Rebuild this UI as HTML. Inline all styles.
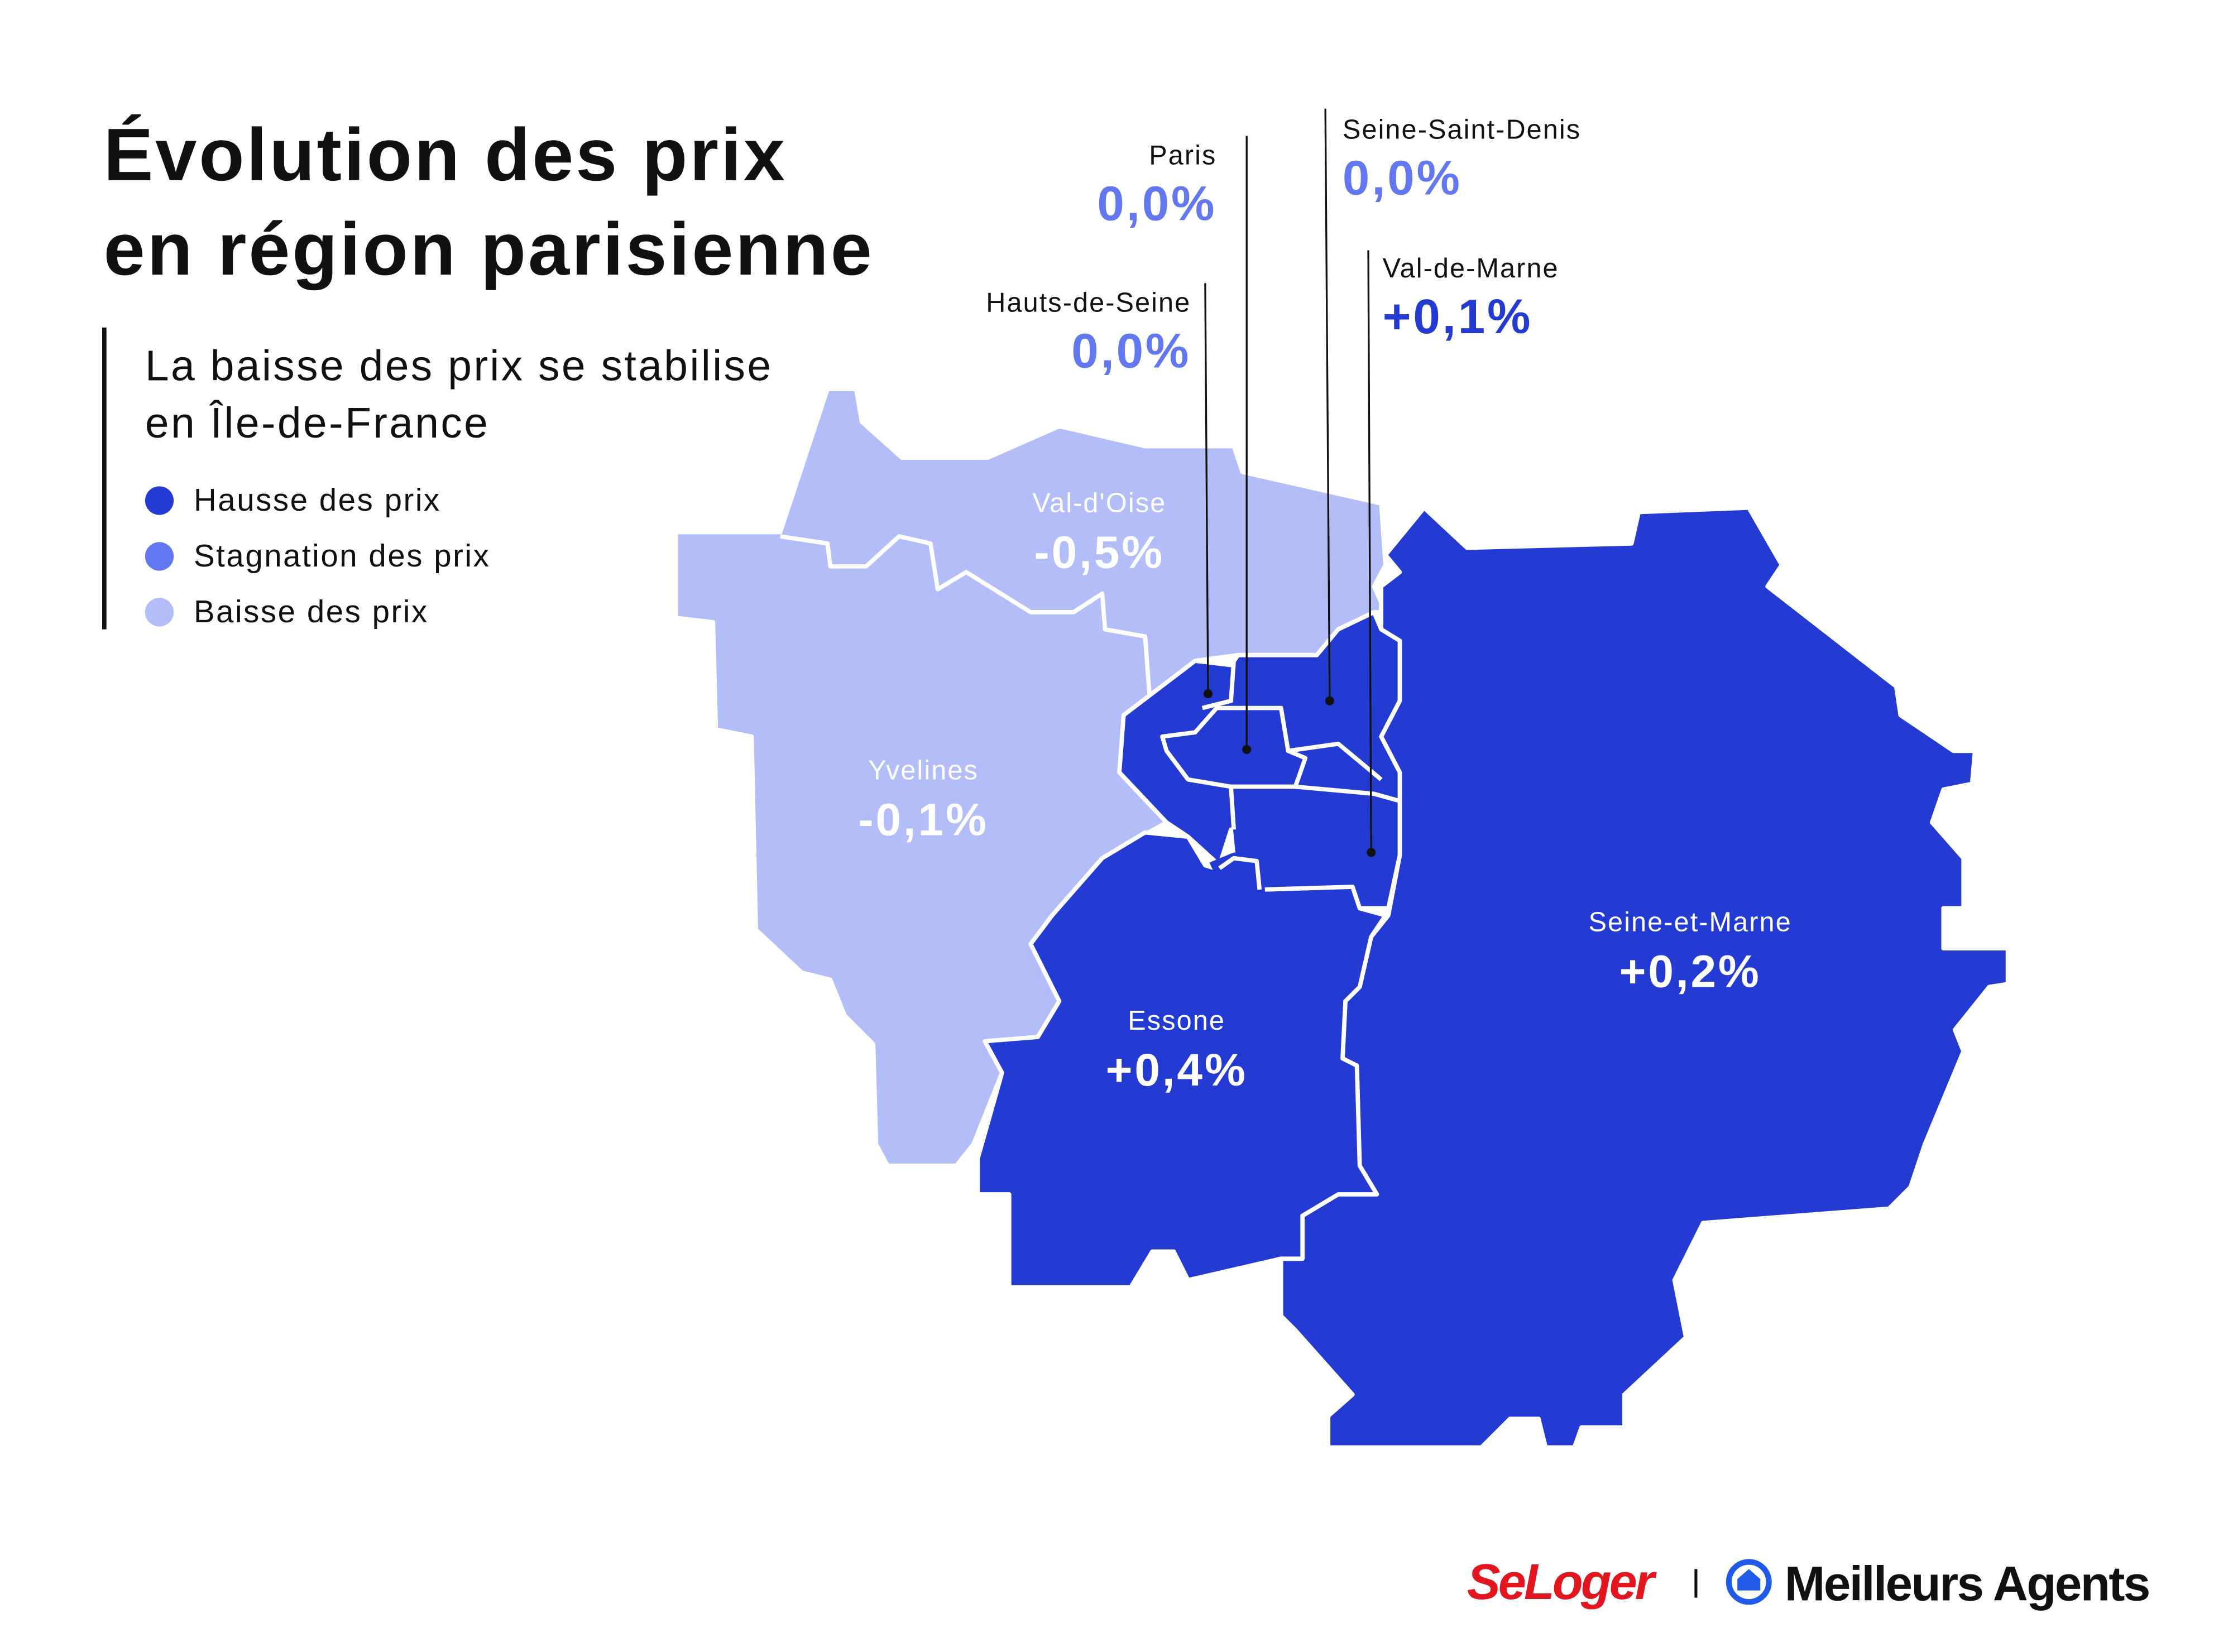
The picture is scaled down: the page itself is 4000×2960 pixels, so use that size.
<!DOCTYPE html>
<html><head><meta charset="utf-8"><style>
html,body{margin:0;padding:0;background:#fff}
svg{display:block}
text{font-family:"Liberation Sans","DejaVu Sans",sans-serif}
</style></head><body>
<svg width="4000" height="2960" viewBox="0 0 1560 1155" xmlns="http://www.w3.org/2000/svg">
<rect width="1560" height="1155" fill="#fff"/>
<text x="72" y="126" font-size="52" font-weight="bold" fill="#111" letter-spacing="1.5">Évolution des prix</text>
<text x="72" y="192" font-size="52" font-weight="bold" fill="#111" letter-spacing="1.5">en région parisienne</text>
<rect x="71" y="229" width="3" height="211" fill="#111"/>
<text x="101" y="266" font-size="30" fill="#111" letter-spacing="1.3">La baisse des prix se stabilise</text>
<text x="101" y="306" font-size="30" fill="#111" letter-spacing="1.3">en Île-de-France</text>
<circle cx="111" cy="350" r="10" fill="#233bd3"/>
<circle cx="111" cy="389" r="10" fill="#6377f0"/>
<circle cx="111" cy="428" r="10" fill="#b3bdf8"/>
<text x="135" y="357" font-size="22" fill="#111" letter-spacing="1">Hausse des prix</text>
<text x="135" y="396" font-size="22" fill="#111" letter-spacing="1">Stagnation des prix</text>
<text x="135" y="435" font-size="22" fill="#111" letter-spacing="1">Baisse des prix</text>

<g stroke="#fff" stroke-width="3" stroke-linejoin="round">
<path fill="#b3bdf8" d="M578,272 L598,272 L602,295 L630,320 L690,320 L740,298 L800,312 L862,312 L868,330 L965,352 L968,395 L960,410 L968,428 L960,428 L935,440 L920,458 L865,458 L835,462 L785,500 L782,540 L815,575 L770,600 L735,640 L720,660 L740,700 L725,725 L688,728 L700,750 L680,800 L668,815 L620,815 L612,800 L610,730 L590,710 L580,685 L560,680 L528,650 L525,515 L500,510 L498,435 L472,432 L472,372 L545,372 Z"/>
<path fill="none" d="M545,375 L578,380 L580,396 L605,396 L628,375 L650,380 L655,412 L675,400 L720,428 L750,428 L770,415 L772,440 L800,445 L803,485"/>
<path fill="#233bd3" d="M995,355 L1025,383 L1140,380 L1145,358 L1222,355 L1245,395 L1235,410 L1325,480 L1328,500 L1365,525 L1380,525 L1378,548 L1358,552 L1350,575 L1372,600 L1372,635 L1358,635 L1358,663 L1403,663 L1403,688 L1390,690 L1366,720 L1372,735 L1345,800 L1335,830 L1320,845 L1190,855 L1170,895 L1178,935 L1135,975 L1135,998 L1105,998 L1100,1012 L1080,1012 L1075,992 L1055,992 L1035,1012 L928,1012 L928,990 L945,975 L905,930 L895,920 L895,880 L910,880 L910,850 L935,835 L962,835 L950,815 L948,745 L938,740 L940,700 L950,690 L958,655 L970,640 L978,598 L978,540 L965,515 L978,490 L978,448 L965,440 L965,410 L978,400 L968,388 Z"/>
<path fill="#233bd3" d="M770,600 L800,582 L830,585 L842,605 L858,610 L860,625 L880,622 L945,620 L950,635 L968,640 L958,655 L950,690 L940,700 L938,740 L948,745 L950,815 L962,835 L935,835 L910,850 L910,880 L895,880 L830,895 L820,875 L805,875 L790,900 L705,900 L705,835 L683,835 L683,810 L700,750 L688,728 L725,725 L740,700 L720,660 L735,640 Z"/>
<path fill="#233bd3" d="M785,500 L835,462 L860,465 L865,458 L920,458 L935,440 L960,428 L965,440 L978,448 L978,490 L965,515 L978,540 L978,598 L970,635 L950,635 L945,620 L880,622 L878,602 L862,600 L860,580 L852,605 L830,585 L815,575 L782,540 Z"/>
<path fill="#233bd3" stroke="none" d="M845,603 L862,596 L882,598 L884,626 L856,628 Z"/>
<path fill="none" d="M852,607 L862,600 L878,602 L880,622"/>
<path fill="none" d="M862,462 L860,490 L840,495 M900,525 L935,520 L965,545 M860,550 L862,580 M905,550 L960,555 L978,560"/>
<path fill="#233bd3" d="M812,515 L835,512 L850,495 L895,495 L900,525 L912,530 L905,550 L860,550 L830,545 L815,525 Z"/>
</g>

<g stroke="#111" stroke-width="1.3" fill="#111">
<line x1="871" y1="95" x2="871" y2="524"/><circle cx="871" cy="524" r="2.5"/>
<line x1="926" y1="76" x2="929" y2="490"/><circle cx="929" cy="490" r="2.5"/>
<line x1="842" y1="198" x2="844" y2="485"/><circle cx="844" cy="485" r="2.5"/>
<line x1="956" y1="175" x2="958" y2="596"/><circle cx="958" cy="596" r="2.5"/>
</g>
<text x="850" y="115" font-size="19" fill="#111" text-anchor="end" letter-spacing="0.8">Paris</text>
<text x="850" y="154" font-size="34" font-weight="bold" fill="#6377f0" text-anchor="end" letter-spacing="1.5">0,0%</text>
<text x="938" y="97" font-size="19" fill="#111" letter-spacing="0.8">Seine-Saint-Denis</text>
<text x="938" y="136" font-size="34" font-weight="bold" fill="#6377f0" letter-spacing="1.5">0,0%</text>
<text x="832" y="218" font-size="19" fill="#111" text-anchor="end" letter-spacing="0.8">Hauts-de-Seine</text>
<text x="832" y="257" font-size="34" font-weight="bold" fill="#6377f0" text-anchor="end" letter-spacing="1.5">0,0%</text>
<text x="966" y="194" font-size="19" fill="#111" letter-spacing="0.8">Val-de-Marne</text>
<text x="966" y="233" font-size="34" font-weight="bold" fill="#233bd3" letter-spacing="1.5">+0,1%</text>

<g fill="#fff" text-anchor="middle">
<text x="768" y="358" font-size="19" letter-spacing="0.8">Val-d'Oise</text>
<text x="768" y="397" font-size="32" font-weight="bold" letter-spacing="1.5">-0,5%</text>
<text x="645" y="545" font-size="19" letter-spacing="0.8">Yvelines</text>
<text x="645" y="584" font-size="32" font-weight="bold" letter-spacing="1.5">-0,1%</text>
<text x="822" y="720" font-size="19" letter-spacing="0.8">Essone</text>
<text x="822" y="759" font-size="32" font-weight="bold" letter-spacing="1.5">+0,4%</text>
<text x="1181" y="651" font-size="19" letter-spacing="0.8">Seine-et-Marne</text>
<text x="1181" y="690" font-size="32" font-weight="bold" letter-spacing="1.5">+0,2%</text>
</g>

<text x="1025" y="1118" font-size="35" font-weight="bold" font-style="italic" fill="#e3151f" letter-spacing="-1.5">SeLoger</text>
<rect x="1184" y="1097" width="2" height="20" fill="#111"/>
<circle cx="1222" cy="1106" r="14" fill="none" stroke="#1f5ae8" stroke-width="4"/>
<path d="M1214,1112 L1214,1104 L1222,1097 L1230,1104 L1230,1112 Z" fill="#1f5ae8"/>
<text x="1247" y="1119" font-size="34" font-weight="bold" fill="#111" letter-spacing="-1">Meilleurs Agents</text>
</svg>
</body></html>
